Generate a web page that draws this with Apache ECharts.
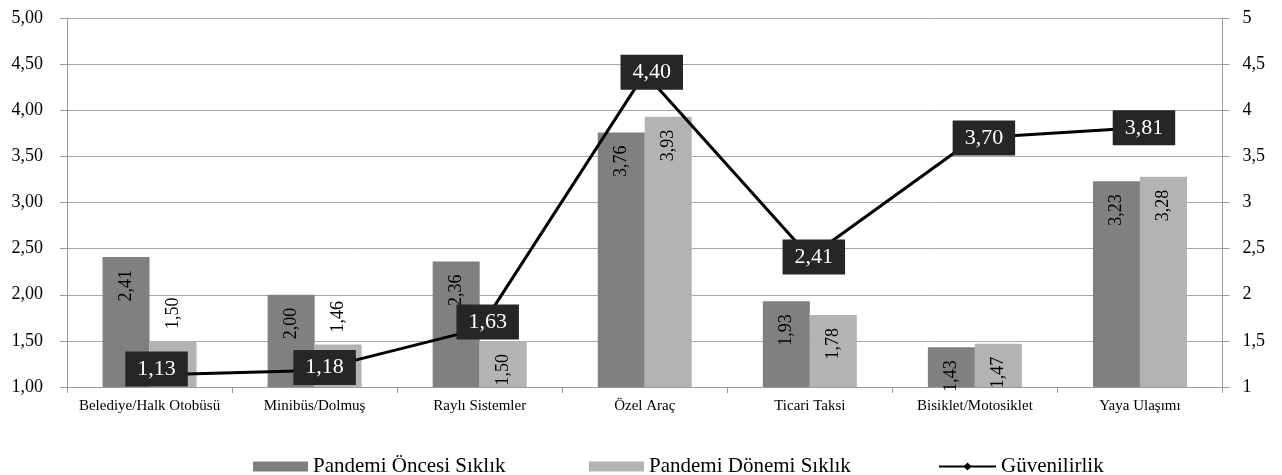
<!DOCTYPE html>
<html>
<head>
<meta charset="utf-8">
<script src="https://cdn.jsdelivr.net/npm/echarts@6/dist/echarts.min.js"></script>
<style>
  html, body { margin: 0; padding: 0; background: #fff; }
  #chart { width: 1282px; height: 475px; }
</style>
</head>
<body>
<div id="chart"></div>
<script>
// Ulaşım türleri
const categories = [
  'Belediye/Halk Otobüsü', 'Minibüs/Dolmuş', 'Raylı Sistemler', 'Özel Araç',
  'Ticari Taksi', 'Bisiklet/Motosiklet', 'Yaya Ulaşımı'
];
// Kullanım sıklığı ortalamaları (sol eksen)
const oncesi = [2.41, 2.00, 2.36, 3.76, 1.93, 1.43, 3.23];
const donemi = [1.50, 1.46, 1.50, 3.93, 1.78, 1.47, 3.28];
// Güvenilirlik ortalamaları (sağ eksen)
const guvenilirlik = [1.13, 1.18, 1.63, 4.40, 2.41, 3.70, 3.81];

const FONT = '"Liberation Serif", "Times New Roman", serif';
const comma2 = v => v.toFixed(2).replace('.', ',');

// Kutu etiketlerinin noktaya göre kaydırılması
const boxShift = [[7, -6], [10, -3], [8, -7], [7, -1], [4, 0], [9, 0], [4, 0]];
// Dönemi çubuklarında etiketi çubuğun üstüne taşınanlar
const aboveBar = [true, true, false, false, false, false, false];

const insideLabel = {
  show: true, position: 'insideTop', rotate: 90, align: 'right', verticalAlign: 'middle',
  distance: 13, fontFamily: FONT, fontSize: 18, color: '#000',
  formatter: p => comma2(p.value)
};
const topLabel = {
  show: true, position: 'top', rotate: 90, align: 'left', verticalAlign: 'middle',
  distance: 12, fontFamily: FONT, fontSize: 18, color: '#000',
  formatter: p => comma2(p.value)
};

const chart = echarts.init(document.getElementById('chart'), null, { renderer: 'canvas' });

const legendBase = {
  top: 451, itemGap: 0, itemHeight: 10,
  textStyle: { fontFamily: FONT, fontSize: 21, color: '#000' }
};

chart.setOption({
  backgroundColor: '#fff',
  animation: false,
  grid: { left: 67, right: 59.5, top: 18, bottom: 88, containLabel: false },
  legend: [
    Object.assign({}, legendBase, { left: 248, itemWidth: 55, data: [{ name: 'Pandemi Öncesi Sıklık', icon: 'rect' }] }),
    Object.assign({}, legendBase, { left: 584, itemWidth: 55, data: [{ name: 'Pandemi Dönemi Sıklık', icon: 'rect' }] }),
    Object.assign({}, legendBase, { left: 933, itemWidth: 57, data: ['Güvenilirlik'] })
  ],
  xAxis: {
    type: 'category',
    data: categories,
    boundaryGap: true,
    axisLine: { lineStyle: { color: '#9a9a9a', width: 1 } },
    axisTick: { show: true, length: 6, lineStyle: { color: '#9a9a9a' } },
    axisLabel: { interval: 0, margin: 12, fontFamily: FONT, fontSize: 15, color: '#000' }
  },
  yAxis: [
    {
      type: 'value', min: 1, max: 5, interval: 0.5,
      axisLine: { show: true, lineStyle: { color: '#9a9a9a' } },
      axisTick: { show: true, length: 7, lineStyle: { color: '#9a9a9a' } },
      splitLine: { show: true, lineStyle: { color: '#a6a6a6', width: 1 } },
      axisLabel: { margin: 24, fontFamily: FONT, fontSize: 18, color: '#000', formatter: v => comma2(v) }
    },
    {
      type: 'value', min: 1, max: 5, interval: 0.5, position: 'right',
      axisLine: { show: true, lineStyle: { color: '#9a9a9a' } },
      axisTick: { show: true, length: 7, lineStyle: { color: '#9a9a9a' } },
      splitLine: { show: false },
      axisLabel: { margin: 20, fontFamily: FONT, fontSize: 18, color: '#000', formatter: v => String(v).replace('.', ',') }
    }
  ],
  series: [
    {
      name: 'Pandemi Öncesi Sıklık',
      type: 'bar',
      barWidth: 47,
      barGap: '0%',
      itemStyle: { color: '#808080' },
      label: insideLabel,
      data: oncesi,
      z: 2
    },
    {
      name: 'Pandemi Dönemi Sıklık',
      type: 'bar',
      barWidth: 47,
      barGap: '0%',
      itemStyle: { color: '#b3b3b3' },
      label: insideLabel,
      data: donemi.map((v, i) => aboveBar[i] ? { value: v, label: topLabel } : v),
      z: 2
    },
    {
      name: 'Güvenilirlik',
      type: 'line',
      yAxisIndex: 1,
      symbol: 'diamond',
      symbolSize: 8,
      itemStyle: { color: '#000' },
      lineStyle: { color: '#000', width: 3 },
      z: 5,
      label: {
        show: true, position: 'inside',
        backgroundColor: '#262626', color: '#fff',
        fontFamily: FONT, fontSize: 22, lineHeight: 22,
        padding: [7, 12, 6, 12],
        formatter: p => comma2(p.value)
      },
      data: guvenilirlik.map((v, i) => ({ value: v, label: { offset: boxShift[i] } }))
    }
  ]
});
</script>
</body>
</html>
